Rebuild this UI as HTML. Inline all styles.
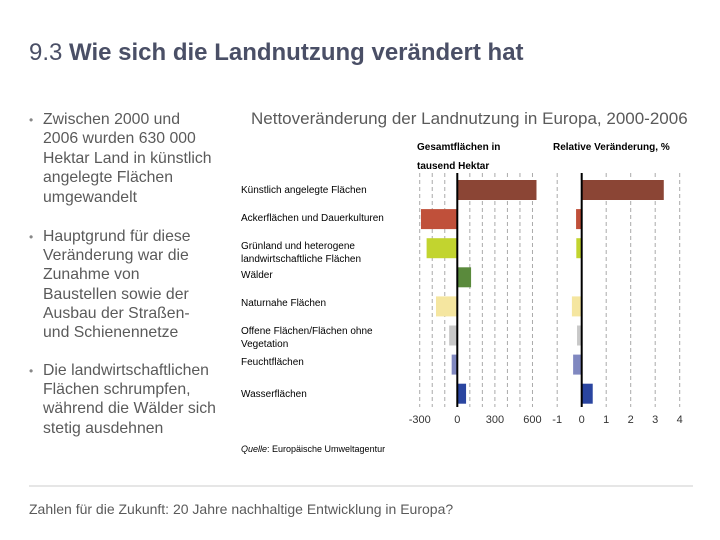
<!DOCTYPE html>
<html><head><meta charset="utf-8"><style>
body{margin:0;background:#fff;}
svg{display:block;font-family:"Liberation Sans",sans-serif;}
</style></head><body>
<svg width="720" height="540" id="s">
<text x="29" y="60" font-size="24" fill="#4a4f66">9.3 <tspan font-weight="bold">Wie sich die Landnutzung verändert hat</tspan></text>
<g font-size="15.8" fill="#5a5a5a">
<text x="29" y="124" font-size="12" fill="#888">•</text>
<text x="43" y="124">Zwischen 2000 und</text><text x="43" y="143">2006 wurden 630 000</text><text x="43" y="163">Hektar Land in künstlich</text><text x="43" y="182">angelegte Flächen</text><text x="43" y="202">umgewandelt</text>
<text x="29" y="241" font-size="12" fill="#888">•</text>
<text x="43" y="241">Hauptgrund für diese</text><text x="43" y="260">Veränderung war die</text><text x="43" y="279">Zunahme von</text><text x="43" y="299">Baustellen sowie der</text><text x="43" y="318">Ausbau der Straßen-</text><text x="43" y="337">und Schienennetze</text>
<text x="29" y="375" font-size="12" fill="#888">•</text>
<text x="43" y="375">Die landwirtschaftlichen</text><text x="43" y="394">Flächen schrumpfen,</text><text x="43" y="413">während die Wälder sich</text><text x="43" y="433">stetig ausdehnen</text>
</g>
<text x="251" y="124" font-size="17" fill="#5a5a5a">Nettoveränderung der Landnutzung in Europa, 2000-2006</text>
<g font-size="10" fill="#000">
<text x="417" y="150" font-weight="bold">Gesamtflächen in</text><text x="417" y="169" font-weight="bold">tausend Hektar</text>
<text x="553" y="150" font-weight="bold">Relative Veränderung, %</text>
</g>
<g font-size="10" fill="#000">
<text x="241" y="193">Künstlich angelegte Flächen</text>
<text x="241" y="221">Ackerflächen und Dauerkulturen</text>
<text x="241" y="249">Grünland und heterogene</text><text x="241" y="262">landwirtschaftliche Flächen</text>
<text x="241" y="278">Wälder</text>
<text x="241" y="306">Naturnahe Flächen</text>
<text x="241" y="334">Offene Flächen/Flächen ohne</text><text x="241" y="347">Vegetation</text>
<text x="241" y="365">Feuchtflächen</text>
<text x="241" y="397">Wasserflächen</text>
</g>
<g id="chart"></g>
<text x="241" y="452" font-size="9" fill="#000"><tspan font-style="italic">Quelle</tspan>: Europäische Umweltagentur</text>
<line x1="29" y1="486" x2="693" y2="486" stroke="#ccc" stroke-width="1"/>
<text x="29" y="514" font-size="14" fill="#5a5a5a">Zahlen für die Zukunft: 20 Jahre nachhaltige Entwicklung in Europa?</text>
</svg>
<script>
const categories=["Künstlich angelegte Flächen","Ackerflächen und Dauerkulturen","Grünland","Wälder","Naturnahe Flächen","Offene Flächen","Feuchtflächen","Wasserflächen"];
const absValues=[632,-290,-245,110,-170,-65,-45,70];
const relValues=[3.35,-0.23,-0.22,0,-0.4,-0.19,-0.35,0.45];
const colors=["#8b4535","#c0503a","#c2d42f","#5a8a3c","#f5e6a0","#c8c8c8","#8088c0","#2a45a0"];
const absTicks=[-300,0,300,600];
const relTicks=[-1,0,1,2,3,4];
const NS="http://www.w3.org/2000/svg",chartG=document.getElementById('chart');
const xA=v=>457.3+v*0.1253, xR=v=>581.7+v*24.5;
const yRow=i=>180+i*29.1, bh=20, yTop=173, yBot=407;
function mk(t,a){const e=document.createElementNS(NS,t);for(const k in a)e.setAttribute(k,a[k]);chartG.appendChild(e);return e;}
for(let v=-300;v<=600;v+=100){if(v===0)continue;const l=mk('line',{x1:xA(v),x2:xA(v),y1:yTop,y2:yBot,stroke:'#aaa','stroke-dasharray':'4,3'});

}
relTicks.forEach(v=>{if(v===0)return;const l=mk('line',{x1:xR(v),x2:xR(v),y1:yTop,y2:yBot,stroke:'#aaa','stroke-dasharray':'4,3'});

});
categories.forEach((c,i)=>{
const a=absValues[i],r=relValues[i];
const b1=mk('rect',{x:Math.min(xA(0),xA(a)),y:yRow(i),width:Math.abs(xA(a)-xA(0)),height:bh,fill:colors[i]});


const b2=mk('rect',{x:Math.min(xR(0),xR(r)),y:yRow(i),width:Math.abs(xR(r)-xR(0)),height:bh,fill:colors[i]});


});
const z1=mk('line',{x1:xA(0),x2:xA(0),y1:yTop,y2:yBot,stroke:'#000','stroke-width':2});


const z2=mk('line',{x1:xR(0),x2:xR(0),y1:yTop,y2:yBot,stroke:'#000','stroke-width':2});


absTicks.forEach(v=>{const t=mk('text',{x:xA(v),y:423,'font-size':11,fill:'#333','text-anchor':'middle'});t.textContent=v;

});
relTicks.forEach(v=>{const t=mk('text',{x:xR(v),y:423,'font-size':11,fill:'#333','text-anchor':'middle'});t.textContent=v;

});
</script>
</body></html>
